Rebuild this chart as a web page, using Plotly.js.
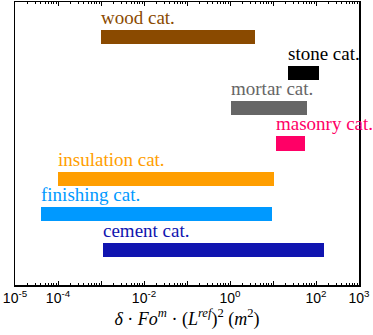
<!DOCTYPE html>
<html>
<head>
<meta charset="utf-8">
<script src="https://cdn.plot.ly/plotly-3.0.1.min.js"></script>
<style>
  body { margin: 0; background: #fff; }
  #chart { width: 373px; height: 335px; }
</style>
</head>
<body>
<div id="chart"></div>
<script>
// categories, top to bottom
var categories = ['wood cat.', 'stone cat.', 'mortar cat.', 'masonry cat.', 'insulation cat.', 'finishing cat.', 'cement cat.'];
var rangeStart = [1e-3, 22, 1.05, 11.5, 1e-4, 4.1e-5, 1.1e-3];
var rangeEnd = [3.9, 115, 62, 55, 10.5, 9.4, 155];
var colors = ['#8a4a00', '#000000', '#666666', '#ff0066', '#ff9e00', '#0099ff', '#1014b0'];

var decadeVals = [1e-5, 1e-4, 1e-3, 1e-2, 1e-1, 1e0, 1e1, 1e2, 1e3];
var decadeText = ['10<sup>-5</sup>', '10<sup>-4</sup>', '', '10<sup>-2</sup>', '', '10<sup>0</sup>', '', '10<sup>2</sup>', '10<sup>3</sup>'];

var serif = 'Liberation Serif';

var n = categories.length;
var ypos = categories.map(function(c, i) { return n - i; });

var minorVals = [];
for (var k = -5; k < 3; k++) {
    for (var m = 2; m <= 9; m++) minorVals.push(m * Math.pow(10, k));
}

var trace = {
    type: 'bar',
    orientation: 'h',
    y: ypos,
    base: rangeStart,
    x: rangeEnd.map(function(e, i) { return e - rangeStart[i]; }),
    width: 0.4,
    marker: { color: colors, line: { width: 0 } },
    hoverinfo: 'none'
};

var annotations = categories.map(function(c, i) {
    return {
        text: c,
        x: Math.log10(rangeStart[i]),
        y: ypos[i] + 0.2,
        xref: 'x', yref: 'y',
        xanchor: 'left', yanchor: 'bottom',
        showarrow: false,
        xshift: -2,
        yshift: 0,
        font: { family: serif, size: 19, color: colors[i] }
    };
});

var layout = {
    width: 373,
    height: 335,
    margin: { l: 15, r: 14, t: 2, b: 50, pad: 0 },
    paper_bgcolor: '#ffffff',
    plot_bgcolor: '#ffffff',
    showlegend: false,
    bargap: 0,
    xaxis: {
        type: 'log',
        range: [-5, 3],
        tickmode: 'array',
        tickvals: decadeVals,
        ticktext: decadeText,
        ticks: 'inside',
        ticklen: 4,
        tickwidth: 1,
        tickcolor: '#000',
        minor: { tickmode: 'array', tickvals: minorVals, ticks: 'inside', ticklen: 2, tickcolor: '#000' },
        showline: true,
        linecolor: '#000',
        linewidth: 1.5,
        mirror: 'ticks',
        showgrid: false,
        zeroline: false,
        tickfont: { family: 'Liberation Sans', size: 14, color: '#000' },
        title: {
            text: '<i>δ</i> · <i>Fo</i><sup><i>m</i></sup> · (<i>L</i><sup><i>ref</i></sup>)<sup>2</sup> (<i>m</i><sup>2</sup>)',
            font: { family: serif, size: 18, color: '#000' },
            standoff: 6
        }
    },
    yaxis: {
        range: [0, n + 1],
        showline: true,
        linecolor: '#000',
        linewidth: 1.5,
        mirror: true,
        ticks: '',
        showticklabels: false,
        showgrid: false,
        zeroline: false,
        fixedrange: true
    },
    annotations: annotations
};

Plotly.newPlot('chart', [trace], layout, { displayModeBar: false, staticPlot: true });
</script>
</body>
</html>
